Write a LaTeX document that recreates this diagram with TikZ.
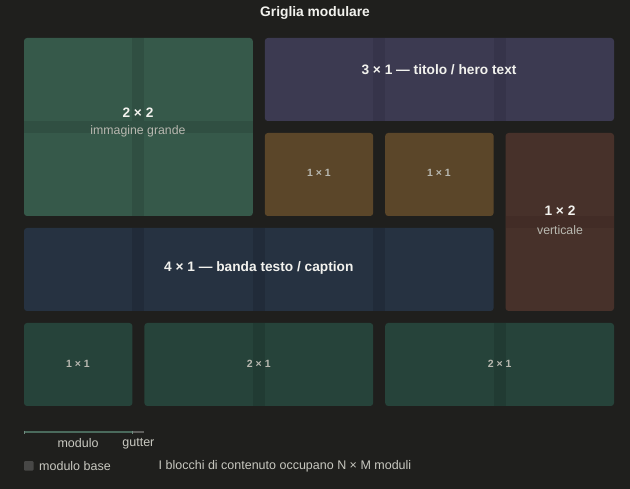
\documentclass[tikz,border=0pt]{standalone}
\usepackage{fontspec}
\setmainfont{Liberation Sans}
\definecolor{bg}{HTML}{1F1F1D}
\definecolor{gA}{HTML}{36594A}\definecolor{gAs}{HTML}{304F42}
\definecolor{pu}{HTML}{3C3A51}\definecolor{pus}{HTML}{36344A}
\definecolor{br}{HTML}{5B4629}
\definecolor{rb}{HTML}{47312A}\definecolor{rbs}{HTML}{422C26}
\definecolor{bl}{HTML}{263241}\definecolor{bls}{HTML}{212B39}
\definecolor{gB}{HTML}{26433A}\definecolor{gBs}{HTML}{213B33}
\definecolor{txw}{HTML}{F2F2EE}
\definecolor{txg}{HTML}{B8B8B0}
\definecolor{leg}{HTML}{C8C8C0}
\tikzset{
  blk/.style={rounded corners=3pt},
  head/.style={font=\bfseries\fontsize{13.7}{15}\selectfont, text=txw, inner sep=0pt},
  sub/.style={font=\fontsize{12.3}{14}\selectfont, text=txg, inner sep=0pt},
  small/.style={font=\bfseries\fontsize{10.5}{12}\selectfont, text=txg, inner sep=0pt},
  legtxt/.style={font=\fontsize{12.5}{14}\selectfont, text=leg, inner sep=0pt},
}
\begin{document}
\begin{tikzpicture}[x=1pt,y=-1pt]
\fill[bg] (0,0) rectangle (630,489);
\useasboundingbox (0,0) rectangle (630,489);
\node[font=\bfseries\fontsize{13.8}{16}\selectfont, text=txw, inner sep=0pt] (title) at (315,13) {Griglia modulare};
% 2x2
\fill[gA,blk] (24,38) rectangle (252.8,216);
\fill[gAs] (132.4,38) rectangle (144.4,216);
\fill[gAs] (24,121) rectangle (252.8,133);
\node[head] (b22) at (138,113) {2 × 2};
\node[sub] (b22s) at (138,131) {immagine grande};
% 3x1
\fill[pu,blk] (264.8,38) rectangle (614,121);
\fill[pus] (373.2,38) rectangle (385.2,121);
\fill[pus] (493.6,38) rectangle (505.6,121);
\node[head] (b31) at (439,70) {3 × 1 — titolo / hero text};
% 1x1 brown
\fill[br,blk] (264.8,133) rectangle (373.2,216);
\fill[br,blk] (385.2,133) rectangle (493.6,216);
\node[small] (b11a) at (319,173) {1 × 1};
\node[small] (b11b) at (439,173) {1 × 1};
% 1x2
\fill[rb,blk] (505.6,133) rectangle (614,311);
\fill[rbs] (505.6,216) rectangle (614,228);
\node[head] (b12) at (560,211) {1 × 2};
\node[sub] (b12s) at (560,230) {verticale};
% 4x1
\fill[bl,blk] (24,228) rectangle (493.6,311);
\fill[bls] (132.4,228) rectangle (144.4,311);
\fill[bls] (252.8,228) rectangle (264.8,311);
\fill[bls] (373.2,228) rectangle (385.2,311);
\node[head] (b41) at (258.8,268) {4 × 1 — banda testo / caption};
% row 4
\fill[gB,blk] (24,323) rectangle (132.4,406);
\fill[gB,blk] (144.4,323) rectangle (373.2,406);
\fill[gBs] (252.8,323) rectangle (264.8,406);
\fill[gB,blk] (385.2,323) rectangle (614,406);
\fill[gBs] (493.6,323) rectangle (505.6,406);
\node[small] (c11) at (78,364) {1 × 1};
\node[small] (c21a) at (258.8,364) {2 × 1};
\node[small] (c21b) at (499.6,364) {2 × 1};
% legend
\coordinate (m0) at (24,432);
\coordinate (m1) at (132.4,432);
\coordinate (g1) at (144.4,432);
\draw[line width=1.3pt, draw=gA!90!white] (m0) -- (m1);
\draw[line width=1.3pt, draw=white!28!bg] (m1) -- (g1);
\draw[line width=0.6pt, draw=gA!70!white] (24,430.5) -- (24,433.5);
\draw[line width=0.6pt, draw=gA!70!white] (132.4,430.5) -- (132.4,433.5);
\node[legtxt] (lmod) at (78,443.5) {modulo};
\node[legtxt] (lgut) at (138.4,443.5) {gutter};
\fill[white!18!bg, rounded corners=1pt] (24,461) rectangle (33.5,470.5);
\node[legtxt, anchor=west] (lbase) at (39,466) {modulo base};
\node[legtxt, anchor=west] (lnote) at (158.5,466) {I blocchi di contenuto occupano N × M moduli};
\end{tikzpicture}
\end{document}
